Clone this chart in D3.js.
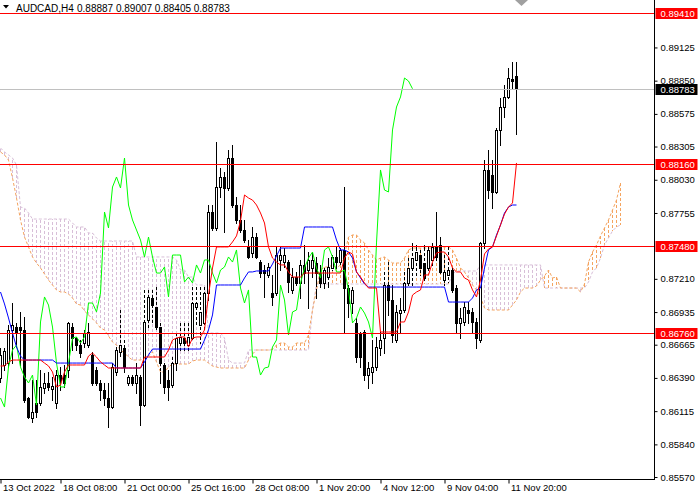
<!DOCTYPE html>
<html><head><meta charset="utf-8">
<script src="https://cdn.jsdelivr.net/npm/d3@7"></script>
<style>
body{margin:0;background:#fff}
svg{display:block}
text{font-family:"Liberation Sans",Arial,sans-serif}
</style>
</head><body>
<svg id="c" width="700" height="500"></svg>
<script>
const symbol = "AUDCAD,H4";
const headerValues = "0.88887 0.89007 0.88405 0.88783";

const opens = [
0.86389,0.86497,0.86513,0.86787,0.86811,0.86811,0.86787,0.86224,0.86058,0.86182,
0.86182,0.86307,0.86348,0.86298,0.86182,0.86414,0.86414,0.86456,0.86811,0.86720,
0.86662,0.86679,0.86662,0.86580,0.86456,0.86348,0.86290,0.86224,0.86149,0.86439,
0.86605,0.86638,0.86348,0.86398,0.86348,0.86398,0.86166,0.86869,0.87051,0.86977,
0.86811,0.86497,0.86373,0.86331,0.86513,0.86679,0.86720,0.86662,0.86720,0.86977,
0.86828,0.86845,0.87093,0.87763,0.87631,0.87970,0.88053,0.87962,0.88210,0.87821,
0.87697,0.87614,0.87482,0.87424,0.87556,0.87349,0.87283,0.87242,0.87093,0.87093,
0.87366,0.87349,0.87349,0.87118,0.87225,0.87176,0.87325,0.87283,0.87300,0.87341,
0.87258,0.87176,0.87225,0.87300,0.87391,0.87349,0.87449,0.87134,0.87010,0.86845,
0.86762,0.86770,0.86414,0.86439,0.86480,0.86638,0.86720,0.87159,0.87035,0.86704,
0.86927,0.86952,0.87176,0.87300,0.87366,0.87407,0.87341,0.87300,0.87366,0.87474,
0.87490,0.87200,0.87242,0.87283,0.87134,0.86845,0.86853,0.86952,0.86936,0.86853,
0.86704,0.87507,0.88111,0.88069,0.87929,0.88442,0.88632,0.88715,0.88864,0.88887];

const highs = [
0.86638,0.86638,0.86828,0.87010,0.86845,0.86936,0.86894,0.86232,0.86373,0.86373,
0.86456,0.86431,0.86439,0.86398,0.86456,0.86480,0.86497,0.86853,0.86845,0.86729,
0.86704,0.86787,0.86845,0.86605,0.86480,0.86373,0.86348,0.86348,0.86513,0.86646,
0.86952,0.86704,0.86414,0.86414,0.86513,0.86414,0.87118,0.87118,0.87118,0.87142,
0.86845,0.86513,0.86456,0.86563,0.86762,0.86845,0.86845,0.86845,0.87142,0.87142,
0.87142,0.87142,0.87821,0.87821,0.88342,0.88127,0.88094,0.88276,0.88318,0.87887,
0.87821,0.87697,0.87531,0.87639,0.87589,0.87366,0.87325,0.87341,0.87242,0.87474,
0.87474,0.87465,0.87366,0.87300,0.87267,0.87366,0.87490,0.87432,0.87432,0.87391,
0.87325,0.87300,0.87382,0.87407,0.87474,0.87465,0.87970,0.87159,0.87142,0.86886,
0.86770,0.86787,0.86522,0.86704,0.86729,0.86770,0.87267,0.87349,0.87159,0.86993,
0.87051,0.87267,0.87382,0.87507,0.87490,0.87449,0.87490,0.87474,0.87507,0.87763,
0.87556,0.87407,0.87474,0.87300,0.87159,0.86969,0.87018,0.87018,0.86969,0.86886,
0.87515,0.88193,0.88276,0.88193,0.88458,0.88707,0.88814,0.88955,0.89005,0.89007];

const lows = [
0.86356,0.86456,0.86480,0.86513,0.86646,0.86497,0.86191,0.86058,0.86025,0.86067,
0.86166,0.86265,0.86290,0.86207,0.86141,0.86290,0.86315,0.86398,0.86621,0.86621,
0.86563,0.86646,0.86646,0.86331,0.86331,0.86207,0.86166,0.85984,0.86141,0.86414,
0.86571,0.86439,0.86331,0.86331,0.86265,0.86000,0.86158,0.86811,0.86845,0.86787,
0.86348,0.86265,0.86207,0.86315,0.86456,0.86621,0.86621,0.86605,0.86704,0.86828,
0.86679,0.86787,0.87035,0.87614,0.87614,0.87887,0.87598,0.87945,0.87804,0.87672,
0.87598,0.87515,0.87382,0.87391,0.87382,0.87225,0.87060,0.87225,0.86993,0.87076,
0.87283,0.87308,0.87101,0.87093,0.87159,0.87051,0.87176,0.86969,0.87225,0.87051,
0.87142,0.87134,0.87142,0.87283,0.87300,0.87333,0.86762,0.86894,0.86927,0.86522,
0.86480,0.86373,0.86307,0.86348,0.86456,0.86580,0.86596,0.86911,0.86687,0.86687,
0.86770,0.86936,0.87159,0.87159,0.87242,0.87242,0.87184,0.87267,0.87325,0.87349,
0.87258,0.87159,0.87184,0.87101,0.86770,0.86720,0.86828,0.86845,0.86770,0.86638,
0.86687,0.87465,0.87879,0.87796,0.87920,0.88318,0.88549,0.88707,0.88789,0.88405];

const closes = [
0.86580,0.86613,0.86787,0.86828,0.86770,0.86787,0.86207,0.86067,0.86108,0.86108,
0.86315,0.86348,0.86315,0.86323,0.86414,0.86373,0.86348,0.86845,0.86720,0.86662,
0.86596,0.86762,0.86770,0.86348,0.86348,0.86290,0.86224,0.86149,0.86480,0.86621,
0.86662,0.86480,0.86398,0.86348,0.86414,0.86166,0.86853,0.87060,0.86993,0.86811,
0.86513,0.86315,0.86315,0.86513,0.86720,0.86729,0.86679,0.86729,0.87010,0.87010,
0.86936,0.87093,0.87763,0.87631,0.87970,0.88053,0.87962,0.88210,0.87821,0.87697,
0.87614,0.87531,0.87391,0.87556,0.87391,0.87258,0.87258,0.87308,0.87060,0.87407,
0.87407,0.87407,0.87184,0.87225,0.87176,0.87325,0.87258,0.87366,0.87366,0.87258,
0.87176,0.87283,0.87308,0.87391,0.87349,0.87449,0.87134,0.87010,0.87118,0.86563,
0.86563,0.86414,0.86472,0.86480,0.86646,0.86704,0.87159,0.87035,0.86745,0.86936,
0.86952,0.87176,0.87300,0.87382,0.87432,0.87300,0.87217,0.87449,0.87474,0.87391,
0.87267,0.87267,0.87283,0.87118,0.86845,0.86886,0.86977,0.86927,0.86853,0.86720,
0.87507,0.88111,0.87945,0.87929,0.88442,0.88632,0.88715,0.88872,0.88847,0.88783];

const tenkan = [
0.86489,0.86489,0.86522,0.86538,0.86538,0.86538,0.86538,0.86538,0.86538,0.86538,
0.86538,0.86513,0.86489,0.86439,0.86315,0.86331,0.86439,0.86497,0.86497,0.86497,
0.86497,0.86497,0.86571,0.86596,0.86563,0.86522,0.86497,0.86472,0.86472,0.86472,
0.86472,0.86472,0.86472,0.86472,0.86472,0.86472,0.86563,0.86563,0.86563,0.86563,
0.86563,0.86563,0.86621,0.86704,0.86720,0.86729,0.86729,0.86646,0.86720,0.86729,
0.86729,0.86787,0.87076,0.87300,0.87474,0.87474,0.87474,0.87474,0.87515,0.87565,
0.87689,0.87904,0.87879,0.87862,0.87821,0.87755,0.87672,0.87474,0.87382,0.87349,
0.87325,0.87325,0.87267,0.87225,0.87225,0.87225,0.87258,0.87258,0.87258,0.87258,
0.87258,0.87258,0.87258,0.87258,0.87258,0.87258,0.87382,0.87432,0.87416,0.87267,
0.87225,0.87176,0.87134,0.87134,0.87134,0.86770,0.86770,0.86770,0.86770,0.86770,
0.86853,0.86853,0.86936,0.87076,0.87101,0.87118,0.87242,0.87242,0.87349,0.87424,
0.87432,0.87432,0.87391,0.87300,0.87267,0.87267,0.87217,0.87200,0.87118,0.87060,
0.87200,0.87416,0.87457,0.87474,0.87565,0.87656,0.87746,0.87804,0.87838,0.88169];

const kijun = [
0.87101,0.87002,0.86886,0.86762,0.86646,0.86571,0.86538,0.86538,0.86538,0.86538,
0.86538,0.86538,0.86538,0.86538,0.86513,0.86513,0.86513,0.86513,0.86513,0.86513,
0.86513,0.86513,0.86513,0.86513,0.86513,0.86513,0.86513,0.86513,0.86513,0.86472,
0.86472,0.86472,0.86472,0.86472,0.86472,0.86472,0.86522,0.86580,0.86629,0.86629,
0.86629,0.86629,0.86629,0.86629,0.86629,0.86629,0.86629,0.86629,0.86629,0.86629,
0.86629,0.86704,0.86787,0.86911,0.87159,0.87159,0.87159,0.87159,0.87159,0.87159,
0.87159,0.87217,0.87267,0.87267,0.87275,0.87275,0.87275,0.87275,0.87333,0.87399,
0.87465,0.87465,0.87465,0.87465,0.87465,0.87465,0.87639,0.87639,0.87639,0.87639,
0.87639,0.87639,0.87639,0.87639,0.87531,0.87449,0.87449,0.87432,0.87382,0.87267,
0.87217,0.87167,0.87142,0.87142,0.87142,0.87142,0.87142,0.87142,0.87142,0.87142,
0.87142,0.87142,0.87142,0.87142,0.87142,0.87142,0.87142,0.87142,0.87142,0.87142,
0.87142,0.87142,0.87018,0.87018,0.87018,0.87018,0.87018,0.87018,0.87051,0.87118,
0.87134,0.87300,0.87449,0.87474,0.87573,0.87656,0.87755,0.87804,0.87821,0.87821];

const spanA = [
0.88260,0.88235,0.88193,0.88045,0.87879,0.87697,0.87556,0.87474,0.87391,0.87341,
0.87300,0.87250,0.87200,0.87159,0.87118,0.87101,0.87101,0.87085,0.87051,0.87002,
0.86993,0.86944,0.86911,0.86878,0.86845,0.86803,0.86787,0.86737,0.86687,0.86662,
0.86621,0.86596,0.86563,0.86538,0.86538,0.86538,0.86555,0.86571,0.86605,0.86522,
0.86439,0.86439,0.86480,0.86505,0.86505,0.86505,0.86505,0.86505,0.86530,0.86538,
0.86538,0.86538,0.86513,0.86489,0.86480,0.86472,0.86472,0.86472,0.86472,0.86472,
0.86472,0.86472,0.86538,0.86588,0.86621,0.86621,0.86621,0.86621,0.86629,0.86662,
0.86679,0.86679,0.86646,0.86646,0.86679,0.86679,0.86679,0.86745,0.86952,0.87118,
0.87283,0.87308,0.87308,0.87325,0.87300,0.87325,0.87407,0.87556,0.87573,0.87573,
0.87531,0.87507,0.87449,0.87407,0.87366,0.87382,0.87391,0.87366,0.87341,0.87341,
0.87341,0.87382,0.87449,0.87465,0.87465,0.87465,0.87465,0.87465,0.87465,0.87465,
0.87474,0.87474,0.87474,0.87449,0.87382,0.87300,0.87267,0.87217,0.87159,0.87118,
0.87060,0.86969,0.86952,0.86952,0.86952,0.86952,0.86952,0.86952,0.86993,0.87035,
0.87101,0.87134,0.87134,0.87134,0.87151,0.87200,0.87233,0.87283,0.87217,0.87225,
0.87134,0.87134,0.87134,0.87134,0.87134,0.87101,0.87167,0.87349,0.87432,0.87490,
0.87565,0.87631,0.87697,0.87780,0.87862,0.88003];

const spanB = [
0.88293,0.88260,0.88235,0.88210,0.88152,0.87804,0.87796,0.87755,0.87705,0.87705,
0.87705,0.87705,0.87705,0.87705,0.87705,0.87705,0.87705,0.87705,0.87672,0.87639,
0.87639,0.87639,0.87589,0.87589,0.87548,0.87523,0.87523,0.87523,0.87523,0.87523,
0.87523,0.87523,0.87523,0.87523,0.87391,0.87391,0.87391,0.87391,0.87391,0.87391,
0.87391,0.87391,0.87391,0.87391,0.87366,0.87283,0.87283,0.87225,0.87225,0.87159,
0.87159,0.87159,0.86762,0.86762,0.86762,0.86762,0.86720,0.86538,0.86513,0.86513,
0.86513,0.86513,0.86621,0.86621,0.86621,0.86621,0.86621,0.86621,0.86621,0.86621,
0.86621,0.86621,0.86621,0.86621,0.86621,0.86621,0.86621,0.86621,0.86952,0.87167,
0.87167,0.87167,0.87167,0.87167,0.87167,0.87167,0.87167,0.87167,0.87167,0.87167,
0.87167,0.87167,0.87167,0.87167,0.87167,0.87167,0.87167,0.87167,0.87167,0.87167,
0.87167,0.87167,0.87167,0.87167,0.87167,0.87167,0.87167,0.87167,0.87167,0.87167,
0.87167,0.87167,0.87167,0.87250,0.87275,0.87275,0.87275,0.87275,0.87275,0.87275,
0.87325,0.87325,0.87325,0.87325,0.87325,0.87325,0.87325,0.87325,0.87325,0.87325,
0.87325,0.87325,0.87325,0.87325,0.87325,0.87325,0.87134,0.87134,0.87134,0.87134,
0.87134,0.87134,0.87134,0.87134,0.87134,0.87134,0.87134,0.87184,0.87267,0.87300,
0.87382,0.87490,0.87548,0.87606,0.87639,0.87656];

const priceTicks = [0.89125,0.88850,0.88575,0.88305,0.88030,0.87755,0.87210,0.86935,0.86665,0.86390,0.86115,0.85840,0.85570];
const levelLines = [0.89410,0.88160,0.87480,0.86760];
const lastPrice = 0.88783;
const timeLabels = ["13 Oct 2022","18 Oct 08:00","21 Oct 00:00","25 Oct 16:00","28 Oct 08:00","1 Nov 20:00","4 Nov 12:00","9 Nov 04:00","11 Nov 20:00"];
const timeLabelBars = [0,15,31,47,63,79,95,111,127];

const ORANGE = "#F4A460", THISTLE = "#D8BFD8", RED = "#FF0000", BLUE = "#0000FF", LIME = "#00FF00";
const axisX = 654.5, axisY = 479.5;

const svg = d3.select("#c");
const x = d3.scaleLinear().domain([0, 129]).range([0.5, 516.5]);
const y = d3.scaleLinear().domain([0.85570, 0.89410]).range([477, 13]);
const ry = v => Math.round(y(v));

svg.append("defs").append("clipPath").attr("id","clip")
  .append("rect").attr("x",0).attr("y",0).attr("width",654).attr("height",479);
const plot = svg.append("g").attr("clip-path","url(#clip)");

// cloud hatch
const cloudIdx = d3.range(spanA.length).filter(i => Math.abs(ry(spanA[i]) - ry(spanB[i])) >= 1);
plot.append("g").selectAll("line").data(cloudIdx).join("line")
  .attr("x1", i => x(i)).attr("x2", i => x(i))
  .attr("y1", i => ry(spanA[i])).attr("y2", i => ry(spanB[i]))
  .attr("stroke", i => spanA[i] >= spanB[i] ? ORANGE : THISTLE)
  .attr("stroke-width", 1).attr("stroke-dasharray", "3,2");

const lineOf = arr => d3.line().x((d,i) => x(i)).y(d => y(d))(arr);
plot.append("path").attr("d", lineOf(spanB)).attr("fill","none").attr("stroke",THISTLE).attr("stroke-dasharray","3,2");
plot.append("path").attr("d", lineOf(spanA)).attr("fill","none").attr("stroke",ORANGE).attr("stroke-dasharray","3,2");

// candles
const bars = d3.range(closes.length).map(i => ({i, o: opens[i], h: highs[i], l: lows[i], c: closes[i]}));
const wickSegs = [];
bars.forEach(b => {
  const yh = ry(b.h), yl = ry(b.l);
  const ca = ry(spanA[b.i]), cb = ry(spanB[b.i]);
  const ct = Math.min(ca, cb), cbo = Math.max(ca, cb);
  const inside = cbo - ct >= 1;
  if (!inside || ct >= yl || cbo <= yh) { wickSegs.push({i:b.i, y1:yh, y2:yl, dash:false}); return; }
  if (ct > yh) wickSegs.push({i:b.i, y1:yh, y2:ct, dash:false});
  wickSegs.push({i:b.i, y1:Math.max(yh,ct), y2:Math.min(yl,cbo), dash:true});
  if (cbo < yl) wickSegs.push({i:b.i, y1:cbo, y2:yl, dash:false});
});
const cg = plot.append("g");
cg.selectAll("line.w").data(wickSegs).join("line").attr("class","w")
  .attr("x1", d => x(d.i)).attr("x2", d => x(d.i))
  .attr("y1", d => d.y1).attr("y2", d => d.y2 + 1)
  .attr("stroke", "#000").attr("stroke-dasharray", d => d.dash ? "3,2" : null);
cg.selectAll("rect").data(bars.filter(b => Math.abs(ry(b.o) - ry(b.c)) >= 1)).join("rect")
  .attr("x", b => x(b.i) - 1).attr("width", 2)
  .attr("y", b => Math.min(ry(b.o), ry(b.c)) + 0.5)
  .attr("height", b => Math.abs(ry(b.o) - ry(b.c)))
  .attr("fill", b => b.c > b.o ? "#fff" : "#000").attr("stroke", "#000");
cg.selectAll("line.d").data(bars.filter(b => Math.abs(ry(b.o) - ry(b.c)) < 1)).join("line").attr("class","d")
  .attr("x1", b => x(b.i) - 1.5).attr("x2", b => x(b.i) + 1.5)
  .attr("y1", b => ry(b.c) + 0.5).attr("y2", b => ry(b.c) + 0.5).attr("stroke","#000");

// indicator lines
const chikou = closes.slice(26);
plot.append("path").attr("d", lineOf(chikou)).attr("fill","none").attr("stroke",LIME);
plot.append("path").attr("d", lineOf(kijun)).attr("fill","none").attr("stroke",BLUE);
plot.append("path").attr("d", lineOf(tenkan)).attr("fill","none").attr("stroke",RED);

// horizontal level lines
svg.append("line").attr("x1",0).attr("x2",axisX).attr("y1",ry(lastPrice)+0.5).attr("y2",ry(lastPrice)+0.5)
  .attr("stroke","#C0C0C0");
svg.selectAll("line.lvl").data(levelLines).join("line").attr("class","lvl")
  .attr("x1",0).attr("x2",axisX).attr("y1",d=>ry(d)+0.5).attr("y2",d=>ry(d)+0.5).attr("stroke",RED);

// axes
const yAxis = d3.axisRight(y).tickValues(priceTicks).tickSize(3).tickPadding(3).tickFormat(d3.format(".5f"));
const gy = svg.append("g").attr("transform",`translate(${axisX},0)`).call(yAxis);
gy.select(".domain").remove();
gy.selectAll("text").attr("font-family","Liberation Sans, Arial, sans-serif").attr("font-size","9.5px").attr("fill","#000");
gy.selectAll("line").attr("stroke","#000");

const xAxis = d3.axisBottom(x).tickValues(timeLabelBars).tickSize(4).tickPadding(1)
  .tickFormat((d,k) => timeLabels[k]);
const gx = svg.append("g").attr("transform",`translate(0,${axisY})`).call(xAxis);
gx.select(".domain").remove();
gx.selectAll("text").attr("text-anchor","start").attr("dx","2")
  .attr("font-family","Liberation Sans, Arial, sans-serif").attr("font-size","9.5px").attr("fill","#000");
gx.selectAll("line").attr("stroke","#000");

svg.append("line").attr("x1",axisX).attr("x2",axisX).attr("y1",0).attr("y2",axisY+0.5).attr("stroke","#000");
svg.append("line").attr("x1",0).attr("x2",axisX).attr("y1",axisY).attr("y2",axisY).attr("stroke","#000");

// price labels on axis
const labels = levelLines.map(v => ({v, bg: RED})).concat([{v: lastPrice, bg: "#000"}]);
const lg = svg.append("g").selectAll("g").data(labels).join("g")
  .attr("transform", d => `translate(${axisX+1},${ry(d.v)})`);
lg.append("rect").attr("x",0).attr("y",-5).attr("width",42).attr("height",11).attr("fill", d => d.bg);
lg.append("text").attr("x",5).attr("y",4).attr("font-size","9.5px").attr("fill","#fff")
  .text(d => d3.format(".5f")(d.v));

// header
svg.append("path").attr("d","M3,5H9L6,8.5Z").attr("fill","#000");
svg.append("text").attr("x",16).attr("y",11.5).attr("font-size","10px").attr("fill","#000").text(symbol);
svg.append("text").attr("x",77).attr("y",11.5).attr("font-size","10px").attr("fill","#000").text(headerValues);
svg.append("path").attr("d","M515,0H528L521.5,6Z").attr("fill","#A0A0A0");
</script>
</body></html>
